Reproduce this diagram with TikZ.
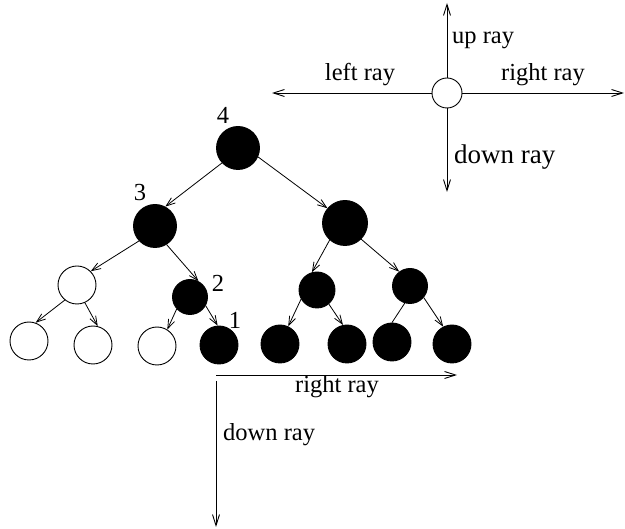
\documentclass[tikz,border=0pt]{standalone}
\usepackage{fontspec}
\setmainfont{Liberation Serif}
\usetikzlibrary{arrows.meta}
\begin{document}
\begin{tikzpicture}[x=1pt,y=-1pt,
  every node/.style={font=\fontsize{24.5}{29}\selectfont},
  full/.style={circle,fill=black,draw=black,line width=0.9pt,inner sep=0pt,minimum size=#1},
  hollow/.style={circle,fill=white,draw=black,line width=0.9pt,inner sep=0pt,minimum size=#1},
  edge/.style={line width=0.8pt,-{Straight Barb[length=9pt,width=6.5pt]}},
  plain/.style={line width=0.8pt},
  ray/.style={line width=0.9pt,-{Straight Barb[length=11pt,width=7pt]}},
  lbl/.style={inner sep=0pt}]
\useasboundingbox (0,0) rectangle (625,529);

% compass of the four rays
\node[hollow=30pt] (c) at (447,93) {};
\coordinate (cu) at (447,3);
\coordinate (cl) at (272,93);
\coordinate (cr) at (624,93);
\coordinate (cd) at (447,192);
\draw[ray] (c) -- (cu);
\draw[ray] (c) -- (cl);
\draw[ray] (c) -- (cr);
\draw[ray] (c) -- (cd);
\node[lbl,anchor=west] (tu) at (452,40) {up ray};
\node[lbl] (tl) at (360,75) {left ray};
\node[lbl] (tr) at (543,75) {right ray};
\node[lbl,anchor=west,font=\fontsize{27}{32}\selectfont] (td) at (454,157) {down ray};

% tree
\node[full=43pt] (n4) at (238,148) {};
\node[full=43pt] (n3) at (155,226) {};
\node[full=45pt] (r) at (345,223) {};
\node[hollow=38pt] (w) at (77,285) {};
\node[full=35pt] (n2) at (190,297) {};
\node[full=36pt] (rl) at (317,290) {};
\node[full=35pt] (rr) at (410,286) {};
\node[hollow=38pt] (b1) at (29,341) {};
\node[hollow=38pt] (b2) at (93,345) {};
\node[hollow=38pt] (b3) at (157,346) {};
\node[full=38pt] (n1) at (219,345) {};
\node[full=38pt] (b5) at (280,344) {};
\node[full=38pt] (b6) at (347,344) {};
\node[full=38pt] (b7) at (392,342) {};
\node[full=38pt] (b8) at (452,344) {};

\draw[edge] (n4.223) -- (n3.62);
\draw[edge] (n4.336) -- (r.140);
\draw[edge] (n3.223) -- (w.45);
\draw[edge] (n3.302) -- (n2.62);
\draw[edge] (w.231) -- (b1.70);
\draw[edge] (w.294) -- (b2.76);
\draw[edge] (n2.222) -- (b3.58);
\draw[edge] (n2.331) -- (n1.94);
\draw[edge] (r.228) -- (rl.106);
\draw[edge] (r.315) -- (rr.127);
\draw[edge] (rl.210) -- (b5.65);
\draw[edge] (rl.310) -- (b6.102);
\draw[plain] (rr.253) -- (b7.90);
\draw[edge] (rr.320) -- (b8.117);

\node[lbl] (l4) at (223,115) {4};
\node[lbl] (l3) at (140,193) {3};
\node[lbl] (l2) at (218,283) {2};
\node[lbl] (l1) at (235,320) {1};

% rays from the leaf marked 1
\coordinate (o) at (216,375);
\coordinate (oo) at (216,381);
\coordinate (re) at (457,375);
\coordinate (de) at (216,527);
\draw[ray] (o) -- (re);
\draw[ray] (oo) -- (de);
\node[lbl] (br) at (337,387) {right ray};
\node[lbl,anchor=west] (bd) at (223,435) {down ray};
\end{tikzpicture}
\end{document}
